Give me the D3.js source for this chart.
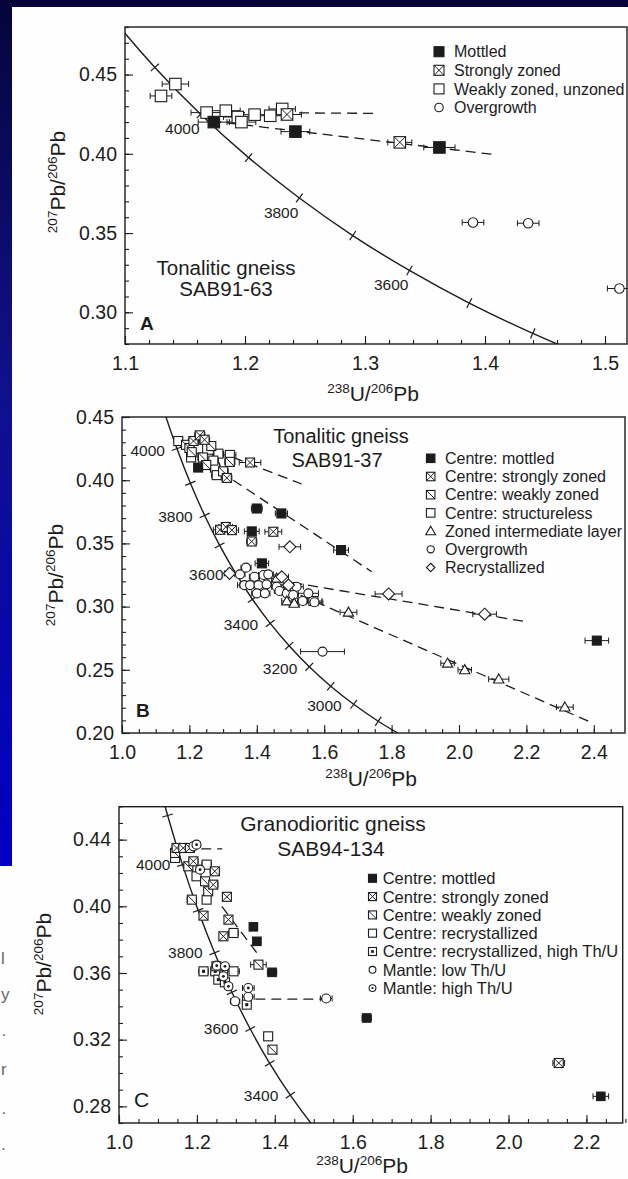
<!DOCTYPE html>
<html><head><meta charset="utf-8">
<script src="https://cdn.jsdelivr.net/npm/d3@7"></script>
<style>
html,body{margin:0;padding:0;width:628px;height:1179px;overflow:hidden;background:#fff;}
svg{display:block;}
text{font-family:"Liberation Sans",Arial,Helvetica,sans-serif;}
</style></head><body>
<svg id="c" width="628" height="1179"></svg>
<script>
const concAges = [2800,2900,3000,3100,3200,3300,3400,3500,3600,3700,3800,3900,4000,4100,4200,4300];
const concU  = [1.8384,1.7603,1.6875,1.6194,1.5557,1.4959,1.4398,1.3869,1.3370,1.2898,1.2453,1.2030,1.1630,1.1249,1.0888,1.0543];
const concPb = [0.1968,0.2093,0.2227,0.2370,0.2524,0.2690,0.2867,0.3058,0.3264,0.3484,0.3721,0.3976,0.4250,0.4545,0.4862,0.5204];

// ---------- tick labels ----------
const A_xTicks = [1.1,1.2,1.3,1.4,1.5];
const A_yTicks = [0.30,0.35,0.40,0.45];
const B_xTicks = [1.0,1.2,1.4,1.6,1.8,2.0,2.2,2.4];
const B_yTicks = [0.20,0.25,0.30,0.35,0.40,0.45];
const C_xTicks = [1.0,1.2,1.4,1.6,1.8,2.0,2.2];
const C_yTicks = [0.28,0.32,0.36,0.40,0.44];
const A_ageLabels = [4000,3800,3600];
const B_ageLabels = [4000,3800,3600,3400,3200,3000];
const C_ageLabels = [4000,3800,3600,3400];

// ---------- legends ----------
const A_legend = ["Mottled","Strongly zoned","Weakly zoned, unzoned","Overgrowth"];
const B_legend = ["Centre: mottled","Centre: strongly zoned","Centre: weakly zoned","Centre: structureless","Zoned intermediate layer","Overgrowth","Recrystallized"];
const C_legend = ["Centre: mottled","Centre: strongly zoned","Centre: weakly zoned","Centre: recrystallized","Centre: recrystallized, high Th/U","Mantle: low Th/U","Mantle: high Th/U"];

// ---------- data: [238U/206Pb, 207Pb/206Pb, x-error] ----------
const A_mottled = [[1.174,0.420,0.013],[1.242,0.414,0.012],[1.362,0.404,0.013]];
const A_strong  = [[1.235,0.4248,0.012],[1.329,0.4072,0.010]];
const A_weak    = [[1.130,0.4365,0.009],[1.142,0.4440,0.011],[1.168,0.4260,0.013],[1.184,0.4272,0.012],[1.194,0.4232,0.012],[1.197,0.4200,0.012],[1.208,0.4247,0.011],[1.221,0.4240,0.011],[1.231,0.4283,0.011]];
const A_over    = [[1.390,0.3567,0.009],[1.436,0.3562,0.009],[1.512,0.3150,0.010]];
const A_lines   = [[[1.165,0.4262],[1.310,0.4255]],[[1.172,0.4207],[1.408,0.3995]]];

const B_mottled = [[1.226,0.410,0.012],[1.400,0.3776,0.016],[1.473,0.3737,0.018],[1.385,0.3595,0.022],[1.415,0.3342,0.020],[1.650,0.3447,0.022],[2.409,0.2731,0.035]];
const B_strong  = [[1.212,0.4310,0.015],[1.231,0.4355,0.015],[1.245,0.4320,0.015],[1.311,0.4018,0.015],[1.380,0.4140,0.032],[1.291,0.3608,0.020],[1.308,0.3630,0.020],[1.326,0.3605,0.020],[1.385,0.3515,0.015],[1.449,0.3592,0.025]];
const B_weak    = [[1.190,0.4280,0.015],[1.200,0.4255,0.012],[1.207,0.4222,0.015],[1.240,0.4180,0.015],[1.250,0.4120,0.015],[1.300,0.4070,0.015],[1.320,0.4145,0.015],[1.265,0.4270,0.012]];
const B_struct  = [[1.167,0.4310,0.012],[1.226,0.4250,0.012],[1.205,0.4180,0.012],[1.256,0.4170,0.015],[1.286,0.4210,0.015],[1.320,0.4200,0.018],[1.276,0.4100,0.015],[1.281,0.4040,0.015],[1.271,0.4155,0.015],[1.568,0.3044,0.025]];
const B_layer   = [[1.459,0.3224,0.015],[1.489,0.3044,0.015],[1.511,0.3026,0.015],[1.672,0.2955,0.025],[1.966,0.2552,0.020],[2.017,0.2500,0.020],[2.118,0.2426,0.030],[2.314,0.2205,0.025]];
const B_over    = [[1.350,0.3255,0.015],[1.368,0.3308,0.015],[1.393,0.3236,0.015],[1.420,0.3250,0.015],[1.434,0.3255,0.015],[1.363,0.3170,0.020],[1.380,0.3170,0.030],[1.405,0.3170,0.015],[1.429,0.3176,0.015],[1.459,0.3157,0.015],[1.518,0.3157,0.020],[1.400,0.3105,0.015],[1.424,0.3105,0.015],[1.467,0.3123,0.015],[1.489,0.3105,0.015],[1.508,0.3092,0.015],[1.553,0.3105,0.030],[1.536,0.3044,0.015],[1.571,0.3034,0.025],[1.595,0.2644,0.065]];
const B_recr    = [[1.319,0.3263,0.015],[1.474,0.3236,0.020],[1.494,0.3170,0.015],[1.498,0.3473,0.032],[1.791,0.3100,0.040],[2.076,0.2940,0.035]];
const B_lines   = [[[1.330,0.4180],[1.533,0.3970]],[[1.330,0.4000],[1.741,0.3276]],[[1.505,0.3190],[2.200,0.2880]],[[1.530,0.3090],[2.397,0.2078]]];

const C_mottled = [[1.345,0.3877,0.010],[1.354,0.3790,0.010],[1.393,0.3604,0.012],[1.636,0.3330,0.012],[2.237,0.2860,0.020]];
const C_strong  = [[1.148,0.4350,0.012],[1.165,0.4350,0.012],[1.182,0.4350,0.012],[1.191,0.4270,0.012],[1.246,0.4210,0.012],[1.242,0.4130,0.012],[1.277,0.4057,0.010],[1.217,0.3944,0.010],[1.281,0.3920,0.010],[1.268,0.3820,0.010],[2.129,0.3060,0.015]];
const C_weak    = [[1.144,0.4320,0.010],[1.178,0.4240,0.010],[1.221,0.4150,0.010],[1.229,0.4090,0.010],[1.187,0.4040,0.012],[1.358,0.3650,0.020],[1.394,0.3140,0.008]];
const C_recr    = [[1.144,0.4290,0.010],[1.225,0.4250,0.012],[1.199,0.4180,0.010],[1.225,0.4040,0.010],[1.294,0.3840,0.012],[1.294,0.3610,0.015],[1.383,0.3220,0.010]];
const C_recrHi  = [[1.217,0.3610,0.012],[1.247,0.3610,0.010],[1.250,0.3640,0.010],[1.255,0.3560,0.010],[1.272,0.3544,0.010],[1.328,0.3410,0.010]];
const C_mantLo  = [[1.298,0.3430,0.012],[1.332,0.3457,0.015],[1.532,0.3447,0.015]];
const C_mantHi  = [[1.191,0.4360,0.010],[1.199,0.4370,0.010],[1.208,0.4220,0.010],[1.251,0.3644,0.010],[1.272,0.3640,0.010],[1.268,0.3580,0.010],[1.281,0.3520,0.010],[1.332,0.3510,0.015]];
const C_lines   = [[[1.170,0.4344],[1.265,0.4344]],[[1.264,0.4000],[1.354,0.3720]],[[1.350,0.3443],[1.525,0.3443]]];

// fragments of neighbouring page text at the bottom-left edge
const edgeFragments = [["l",964],["y",1000],["·",1040],["r",1075],["·",1118],[".",1150]];

// ---------- drawing ----------
const INK = "#1c1c1c";
const FONT = '"Liberation Sans",Arial,Helvetica,sans-serif';
const svg = d3.select("#c");
const defs = svg.append("defs");
const grad = defs.append("linearGradient").attr("id","bg").attr("gradientUnits","userSpaceOnUse")
  .attr("x1",0).attr("y1",0).attr("x2",0).attr("y2",866);
grad.append("stop").attr("offset","0%").attr("stop-color","#05053a");
grad.append("stop").attr("offset","45%").attr("stop-color","#10108c");
grad.append("stop").attr("offset","100%").attr("stop-color","#0000c6");
svg.append("rect").attr("width",628).attr("height",1179).attr("fill","url(#bg)");
svg.append("path").attr("d","M12,7H628V1179H0V866H12Z").attr("fill","#fefefe");
svg.selectAll("text.frag").data(edgeFragments).enter().append("text")
  .attr("x",1).attr("y",d=>d[1]).attr("font-size",17).attr("fill","#666").text(d=>d[0]);

function drawSym(g, type, cx, cy, s){
  const h = s/2, sw = 1.1;
  if (type==="circ" || type==="dotcirc"){
    g.append("circle").attr("cx",cx).attr("cy",cy).attr("r",h).attr("fill","#fff").attr("stroke",INK).attr("stroke-width",sw);
    if (type==="dotcirc") g.append("circle").attr("cx",cx).attr("cy",cy).attr("r",Math.max(1,h*0.32)).attr("fill",INK);
  } else if (type==="tri"){
    const a = h*1.15;
    g.append("path").attr("d",`M${cx},${cy-a}L${cx+a},${cy+a*0.75}L${cx-a},${cy+a*0.75}Z`).attr("fill","#fff").attr("stroke",INK).attr("stroke-width",sw);
  } else if (type==="dia"){
    g.append("path").attr("d",`M${cx},${cy-h}L${cx+h},${cy}L${cx},${cy+h}L${cx-h},${cy}Z`).attr("fill","#fff").attr("stroke",INK).attr("stroke-width",sw);
  } else {
    g.append("rect").attr("x",cx-h).attr("y",cy-h).attr("width",s).attr("height",s)
      .attr("fill",type==="fill"?INK:"#fff").attr("stroke",INK).attr("stroke-width",sw);
    if (type==="xsq"||type==="dsq") g.append("line").attr("x1",cx-h).attr("y1",cy-h).attr("x2",cx+h).attr("y2",cy+h).attr("stroke",INK).attr("stroke-width",sw*0.9);
    if (type==="xsq") g.append("line").attr("x1",cx-h).attr("y1",cy+h).attr("x2",cx+h).attr("y2",cy-h).attr("stroke",INK).attr("stroke-width",sw*0.9);
    if (type==="dotsq") g.append("rect").attr("x",cx-s*0.17).attr("y",cy-s*0.17).attr("width",s*0.34).attr("height",s*0.34).attr("fill",INK);
  }
}

function ratioTitle(g, x, y, parts, rotate){
  const t = g.append("text").attr("transform",`translate(${x},${y})`+(rotate?" rotate(-90)":""))
    .attr("text-anchor","middle").attr("font-size",21).attr("fill",INK);
  let prevSup = false;
  parts.forEach(([s,sup])=>{
    const ts = t.append("tspan").text(s);
    if (sup){ ts.attr("font-size",13.5).attr("dy",prevSup?0:-8); }
    else { ts.attr("dy",prevSup?8:0); }
    prevSup = sup;
  });
}

function panel(c){
  const x = d3.scaleLinear().domain(c.xd).range(c.xr);
  const y = d3.scaleLinear().domain(c.yd).range(c.yr);
  const g = svg.append("g");
  const cid = "clip"+c.id;
  defs.append("clipPath").attr("id",cid).append("rect")
    .attr("x",c.L).attr("y",c.T).attr("width",c.R-c.L).attr("height",c.B-c.T);

  // axes (inward ticks)
  const fmtX = d3.format(".1f"), fmtY = d3.format(".2f");
  const styleAxis = sel => { sel.select(".domain").remove(); sel.attr("font-family",FONT).attr("color",INK); sel.selectAll("line").attr("stroke-width",1.1); };
  g.append("g").attr("transform",`translate(0,${c.B})`)
    .call(d3.axisBottom(x).tickValues(c.xMinor).tickSize(-4).tickFormat("")).call(styleAxis);
  g.append("g").attr("transform",`translate(0,${c.B})`)
    .call(d3.axisBottom(x).tickValues(c.xTicks).tickSize(-8).tickPadding(12).tickFormat(fmtX))
    .call(styleAxis).call(s=>s.selectAll("text").attr("font-size",19.5).attr("fill",INK));
  g.append("g").attr("transform",`translate(${c.L},0)`)
    .call(d3.axisLeft(y).tickValues(c.yMinor).tickSize(-4).tickFormat("")).call(styleAxis);
  g.append("g").attr("transform",`translate(${c.L},0)`)
    .call(d3.axisLeft(y).tickValues(c.yTicks).tickSize(-8).tickPadding(8).tickFormat(fmtY))
    .call(styleAxis).call(s=>s.selectAll("text").attr("font-size",19.5).attr("fill",INK));

  // frame
  g.append("rect").attr("x",c.L).attr("y",c.T).attr("width",c.R-c.L).attr("height",c.B-c.T)
    .attr("fill","none").attr("stroke",INK).attr("stroke-width",1.4);

  // titles
  ratioTitle(g, c.xtX, c.xtY, [["238",true],["U/",false],["206",true],["Pb",false]], false);
  ratioTitle(g, c.ytX, c.ytY, [["207",true],["Pb/",false],["206",true],["Pb",false]], true);

  // concordia
  const pts = concAges.map((a,i)=>[x(concU[i]), y(concPb[i])]);
  const pc = g.append("g").attr("clip-path",`url(#${cid})`);
  pc.append("path").attr("d", d3.line().curve(d3.curveCatmullRom)(pts))
    .attr("fill","none").attr("stroke",INK).attr("stroke-width",1.4);
  concAges.forEach((a,i)=>{
    if (i===0 || i===concAges.length-1) return;
    const [px,py] = pts[i];
    if (px<c.L+2||px>c.R-2||py<c.T+2||py>c.B-2) return;
    let tx = pts[i+1][0]-pts[i-1][0], ty = pts[i+1][1]-pts[i-1][1];
    const n = Math.hypot(tx,ty); tx/=n; ty/=n;
    const nx = -ty, ny = tx, L = 5.5;
    g.append("line").attr("x1",px-nx*L).attr("y1",py-ny*L).attr("x2",px+nx*L).attr("y2",py+ny*L)
      .attr("stroke",INK).attr("stroke-width",1.2);
    if (c.ages.includes(a)){
      g.append("text").attr("x",px+c.lblDx).attr("y",py+c.lblDy).attr("dy","0.35em")
        .attr("text-anchor","end").attr("font-size",15.5).attr("fill",INK).text(a);
    }
  });

  // dashed discordia lines
  c.lines.forEach(l=>{
    pc.append("line").attr("x1",x(l[0][0])).attr("y1",y(l[0][1])).attr("x2",x(l[1][0])).attr("y2",y(l[1][1]))
      .attr("stroke",INK).attr("stroke-width",1.3).attr("stroke-dasharray","10,6");
  });

  // data points with x error bars
  const dg = g.append("g");
  c.series.forEach(s=>{
    s.data.forEach(d=>{
      const cx = x(d[0]), cy = y(d[1]), x0 = x(d[0]-d[2]), x1 = x(d[0]+d[2]);
      dg.append("line").attr("x1",x0).attr("x2",x1).attr("y1",cy).attr("y2",cy).attr("stroke",INK).attr("stroke-width",1);
      [x0,x1].forEach(xx=>dg.append("line").attr("x1",xx).attr("x2",xx).attr("y1",cy-3).attr("y2",cy+3).attr("stroke",INK).attr("stroke-width",1));
    });
  });
  c.series.forEach(s=>{
    s.data.forEach(d=> drawSym(dg, s.type, x(d[0]), y(d[1]), s.size));
  });

  // sample name & panel letter
  c.name.forEach((t,i)=>{
    g.append("text").attr("x",c.nameX[i]).attr("y",c.nameY[i]).attr("text-anchor","middle")
      .attr("font-size",c.nameFs).attr("fill",INK).text(t);
  });
  g.append("text").attr("x",c.letterX).attr("y",c.letterY).attr("font-size",c.letterFs)
    .attr("font-weight",c.letterBold?"bold":"normal").attr("fill",INK).text(c.letter);

  // legend
  const lg = g.append("g");
  c.legend.labels.forEach((t,i)=>{
    const yy = c.legend.y0 + i*c.legend.dy;
    drawSym(lg, c.legend.types[i], c.legend.sx, yy, c.legend.types[i]==="circ"||c.legend.types[i]==="dotcirc"?c.legend.ss*0.85:c.legend.ss);
    lg.append("text").attr("x",c.legend.tx).attr("y",yy).attr("dy","0.36em")
      .attr("font-size",c.legend.fs).attr("fill",INK).text(t);
  });
}

const rng = (a,b,s)=>d3.range(Math.round(a/s),Math.round(b/s)+1).map(k=>+(k*s).toFixed(4));

panel({id:"A", L:125, R:627, T:27, B:344, xd:[1.1,1.5], xr:[125,605], yd:[0.28,0.48], yr:[344,27],
  xTicks:A_xTicks, yTicks:A_yTicks, xMinor:rng(1.1,1.51,0.02), yMinor:rng(0.28,0.48,0.01),
  xtX:373, xtY:401, ytX:65, ytY:182, ages:A_ageLabels, lblDx:-1, lblDy:14.5,
  lines:A_lines,
  series:[{data:A_weak,type:"sq",size:11.5},{data:A_strong,type:"xsq",size:11.5},{data:A_mottled,type:"fill",size:11.5},{data:A_over,type:"circ",size:9.5}],
  name:["Tonalitic gneiss","SAB91-63"], nameX:[226,226], nameY:[275,296], nameFs:20.5,
  letter:"A", letterX:140, letterY:330, letterFs:19, letterBold:true,
  legend:{labels:A_legend, types:["fill","xsq","sq","circ"], sx:439, tx:454, y0:51.7, dy:18.6, fs:16, ss:10}
});

panel({id:"B", L:122, R:625, T:417, B:733, xd:[1.0,2.4], xr:[122,593.8], yd:[0.20,0.45], yr:[733,417],
  xTicks:B_xTicks, yTicks:B_yTicks, xMinor:rng(1.0,2.45,0.05), yMinor:rng(0.20,0.45,0.01),
  xtX:371, xtY:786, ytX:63, ytY:575, ages:B_ageLabels, lblDx:-12, lblDy:1.5,
  lines:B_lines,
  series:[{data:B_struct,type:"sq",size:9},{data:B_weak,type:"dsq",size:9},{data:B_strong,type:"xsq",size:9},{data:B_over,type:"circ",size:9},{data:B_layer,type:"tri",size:9},{data:B_recr,type:"dia",size:12},{data:B_mottled,type:"fill",size:9}],
  name:["Tonalitic gneiss","SAB91-37"], nameX:[341,337], nameY:[443,467], nameFs:20,
  letter:"B", letterX:136, letterY:717, letterFs:19, letterBold:true,
  legend:{labels:B_legend, types:["fill","xsq","dsq","sq","tri","circ","dia"], sx:430.7, tx:445, y0:458.3, dy:18.2, fs:16, ss:8.5}
});

panel({id:"C", L:119, R:622.7, T:806.7, B:1123, xd:[1.0,2.2], xr:[119,586.4], yd:[0.27,0.46], yr:[1123,806.3],
  xTicks:C_xTicks, yTicks:C_yTicks, xMinor:rng(1.0,2.3,0.05), yMinor:rng(0.27,0.46,0.01),
  xtX:362, xtY:1173, ytX:51, ytY:964, ages:C_ageLabels, lblDx:-12, lblDy:0,
  lines:C_lines,
  series:[{data:C_recr,type:"sq",size:9},{data:C_weak,type:"dsq",size:9},{data:C_strong,type:"xsq",size:9},{data:C_recrHi,type:"dotsq",size:9},{data:C_mantLo,type:"circ",size:9},{data:C_mantHi,type:"dotcirc",size:9},{data:C_mottled,type:"fill",size:8.5}],
  name:["Granodioritic gneiss","SAB94-134"], nameX:[333,331], nameY:[831,856], nameFs:21,
  letter:"C", letterX:134, letterY:1107, letterFs:21, letterBold:false,
  legend:{labels:C_legend, types:["fill","xsq","dsq","sq","dotsq","circ","dotcirc"], sx:372.5, tx:382.7, y0:878.3, dy:18.3, fs:16.5, ss:8}
});
</script>
</body></html>
